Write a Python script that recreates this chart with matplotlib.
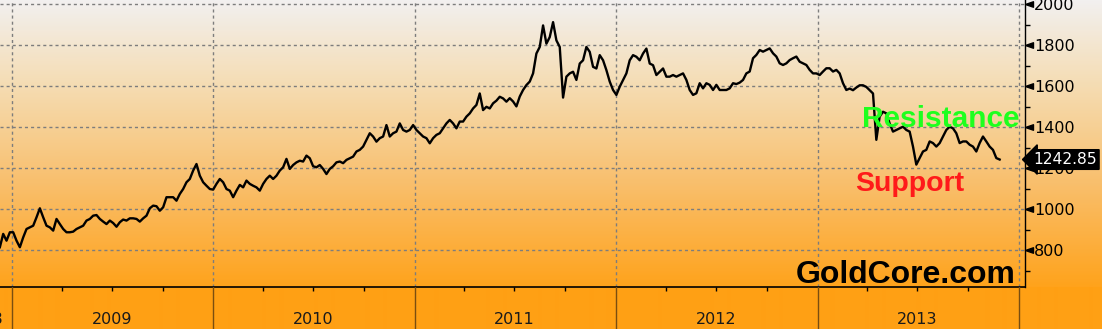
"""Gold price 2009-2013 with support / resistance callouts (GoldCore style)."""
import numpy as np
import pandas as pd
import matplotlib
matplotlib.use("Agg")
import matplotlib.pyplot as plt
import matplotlib.dates as mdates
from matplotlib.colors import LinearSegmentedColormap, to_rgb
from matplotlib.path import Path
from matplotlib.ticker import MultipleLocator

W, H = 1102, 329
STRIP = 42          # height of the date strip (px)
PLOT_W = 1025       # width of the plotting area (px)

# gold price (USD/oz), roughly every 6 days
prices_2009a = [815, 880, 847, 888, 888, 847, 815, 863, 904, 912,
                920, 961, 1005, 961, 920, 912, 896, 953, 928, 904,
                888, 888, 891, 904, 912, 920, 945, 953, 969, 972,
                953, 940, 928, 945, 933, 915, 937, 950, 945, 956,
                956, 953, 940, 956, 969, 1005, 1018, 1015, 993, 1010,
                1059]
prices_2009b = [1059, 1059, 1042, 1075, 1099, 1132, 1148, 1189, 1221, 1164,
                1132, 1115, 1099, 1096, 1124, 1148, 1132, 1099, 1091, 1059,
                1091, 1119, 1107, 1140, 1124, 1115, 1107, 1091, 1124, 1148,
                1164, 1148, 1164, 1189, 1205, 1246, 1197, 1216, 1229, 1237,
                1233, 1262, 1249, 1210, 1205, 1216, 1197, 1172, 1197, 1210,
                1229]
prices_2010 = [1233, 1225, 1241, 1249, 1257, 1282, 1290, 1306, 1338, 1371,
               1355, 1330, 1347, 1355, 1411, 1355, 1371, 1379, 1419, 1387,
               1379, 1387, 1411, 1387, 1371, 1355, 1347, 1322, 1347, 1363,
               1371, 1395, 1419, 1436, 1419, 1395, 1428, 1428, 1452, 1468,
               1492, 1509, 1565, 1484, 1500, 1492, 1517, 1530, 1549, 1541,
               1525]
prices_2011 = [1542, 1526, 1502, 1550, 1582, 1606, 1623, 1663, 1760, 1792,
               1897, 1808, 1840, 1913, 1824, 1792, 1545, 1647, 1663, 1671,
               1631, 1711, 1727, 1792, 1768, 1695, 1687, 1752, 1727, 1679,
               1623, 1582, 1558, 1598, 1631, 1663, 1727, 1752, 1744, 1727,
               1760, 1784, 1711, 1703, 1655, 1671, 1687, 1647, 1647, 1655,
               1647]
prices_2012 = [1655, 1663, 1631, 1582, 1558, 1566, 1615, 1590, 1615, 1607,
               1582, 1607, 1582, 1582, 1582, 1590, 1615, 1611, 1618, 1631,
               1663, 1672, 1737, 1753, 1777, 1769, 1777, 1785, 1761, 1745,
               1712, 1704, 1712, 1728, 1737, 1745, 1720, 1712, 1704, 1680,
               1663, 1663, 1655, 1672, 1688, 1688, 1672, 1680, 1663, 1615,
               1582]
prices_2013 = [1589, 1581, 1594, 1605, 1605, 1597, 1581, 1565, 1339, 1452,
               1476, 1468, 1419, 1379, 1387, 1395, 1403, 1387, 1379, 1306,
               1218, 1250, 1282, 1290, 1331, 1323, 1306, 1323, 1355, 1387,
               1403, 1395, 1371, 1323, 1331, 1331, 1315, 1306, 1282, 1323,
               1355, 1331, 1306, 1290, 1250, 1242.85]

prices = np.array(prices_2009a + prices_2009b + prices_2010 + prices_2011
                  + prices_2012 + prices_2013)
dates = pd.date_range("2008-12-10", "2013-11-27", periods=len(prices))
last_price = prices[-1]

years = [2009, 2010, 2011, 2012, 2013]
x_start, x_end = pd.Timestamp("2008-12-10 06:00"), pd.Timestamp("2014-01-12")
y_lo, y_hi = 621, 2021

fig = plt.figure(figsize=(W / 100, H / 100), dpi=100)

# background: white -> orange gradient, solid orange strip under the plot
bg = fig.add_axes([0, 0, 1, 1], zorder=-10)
grad = LinearSegmentedColormap.from_list(
    "gold", [(0, "#f2f0ef"), (0.3, "#f5dcb2"), (0.65, "#f9be6a"), (1, "#ffa31c")])
top = grad(np.linspace(0, 1, H - STRIP))[:, :3]
bottom = np.tile(to_rgb("#ffa014"), (STRIP, 1))
bg.imshow(np.vstack([top, bottom])[:, None, :], aspect="auto",
          extent=[0, 1, 0, 1], interpolation="bilinear")
bg.set_axis_off()

ax = fig.add_axes([0, STRIP / H, PLOT_W / W, 1 - STRIP / H])
ax.set_facecolor("none")
ax.plot(dates, prices, color="black", linewidth=1.7, zorder=3)
ax.set_xlim(x_start, x_end)
ax.set_ylim(y_lo, y_hi)

ax.xaxis.set_major_locator(mdates.YearLocator())
ax.yaxis.set_major_locator(MultipleLocator(200))
ax.yaxis.set_minor_locator(MultipleLocator(100))
ax.grid(True, which="major", color="#7d7d7d", linestyle=(0, (2.2, 2.2)), linewidth=1)
ax.tick_params(axis="x", which="both", length=0, labelbottom=False)
ax.yaxis.tick_right()
ax.tick_params(axis="y", which="major", length=6, width=1, pad=0.6,
               labelsize=11.5, colors="black")
ax.tick_params(axis="y", which="minor", length=3.5, width=1, colors="black")
for s in ("top", "left"):
    ax.spines[s].set_visible(False)
ax.spines["right"].set_linewidth(1)
ax.spines["bottom"].set_linewidth(1.2)

# major y ticks drawn as little left-pointing triangles
tri = Path([(0, 0), (1.6, 0.55), (1.6, -0.55), (0, 0)],
           [Path.MOVETO, Path.LINETO, Path.LINETO, Path.CLOSEPOLY])
for t in ax.yaxis.get_major_ticks():
    t.tick2line.set_marker(tri)
    t.tick2line.set_markersize(11.5)
    t.tick2line.set_markerfacecolor("black")

# last price tag
ax.text(1 + 8 / PLOT_W, last_price, f"{last_price:.2f}",
        transform=ax.get_yaxis_transform(), ha="left", va="center",
        fontsize=11.2, color="white", zorder=10, clip_on=False,
        bbox=dict(boxstyle="larrow,pad=0.15", fc="black", ec="black"))

# callouts
bold = dict(family="Liberation Sans", fontweight="bold", transform=ax.transAxes,
            va="baseline", ha="center")
ax.text(0.918, 0.5575, "Resistance", color="#1eff1e", fontsize=21.5, **bold)
ax.text(0.888, 0.333, "Support", color="#ff1a1a", fontsize=20.5, **bold)
ax.text(0.884, 0.0139, "GoldCore.com", color="black", fontsize=23, **bold)

# date strip
bx = fig.add_axes([0, 0, PLOT_W / W, STRIP / H])
bx.set_facecolor("none")
bx.set_xlim(x_start, x_end)
bx.set_ylim(0, 1)
bx.xaxis.set_major_locator(mdates.YearLocator())
bx.xaxis.set_minor_locator(mdates.MonthLocator(bymonth=[4, 7, 10]))
bx.grid(True, axis="x", which="major", color="#7a4e10", linewidth=1)
bx.tick_params(axis="x", which="major", length=0, labelbottom=False)
bx.tick_params(axis="x", which="minor", top=True, bottom=False,
               direction="in", length=3, width=1, color="black")
bx.set_yticks([])
for s in bx.spines.values():
    s.set_visible(False)
for yr in years:
    bx.text(pd.Timestamp(f"{yr}-07-01"), 0.11, str(yr), ha="center",
            va="baseline", fontsize=11.5, color="#1a1a1a")
bx.text(pd.Timestamp("2008-12-17"), 0.11, "2008", ha="right",
        va="baseline", fontsize=11.5, color="#1a1a1a")

fig.savefig("out.png", dpi=100)
